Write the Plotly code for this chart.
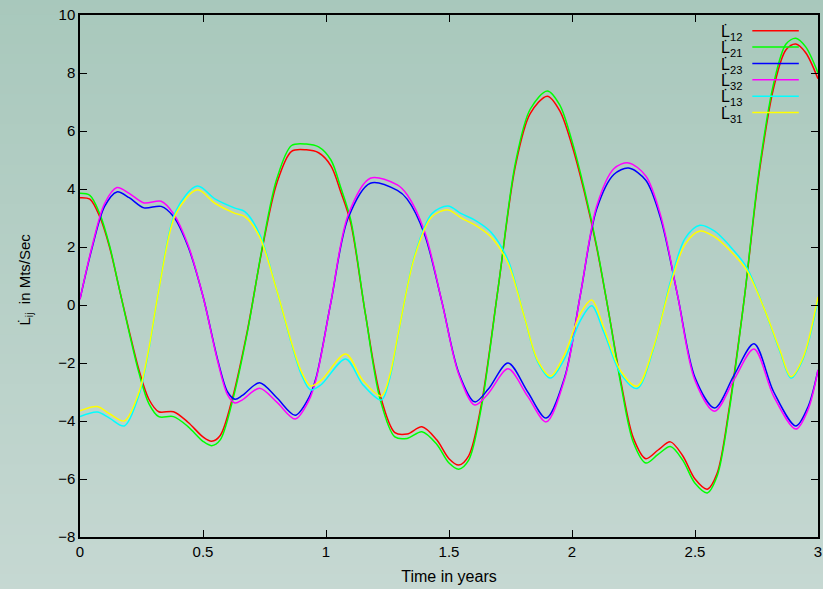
import plotly.graph_objects as go

# Time samples (years) and rates for each pair of bodies
t_a = [0.00, 0.04, 0.08, 0.12, 0.16, 0.20, 0.24, 0.28, 0.32, 0.38, 0.44, 0.50, 0.535, 0.57,
       0.62, 0.68, 0.74, 0.80, 0.86, 0.92, 0.97, 1.02, 1.06, 1.10, 1.16, 1.22, 1.28, 1.33,
       1.39, 1.45, 1.50, 1.54, 1.58, 1.63, 1.70, 1.77, 1.83, 1.90, 1.95, 2.00, 2.05, 2.10,
       2.15, 2.20, 2.25, 2.30, 2.35, 2.40, 2.45, 2.50, 2.55, 2.59, 2.64, 2.70, 2.76, 2.82,
       2.87, 2.91, 2.95, 3.00]
l12 = [3.70, 3.65, 3.05, 2.00, 0.55, -0.90, -2.25, -3.25, -3.68, -3.68, -4.05, -4.55, -4.70, -4.50,
       -3.20, -0.90, 1.90, 4.20, 5.30, 5.35, 5.25, 4.80, 3.90, 2.85, -0.30, -3.10, -4.40, -4.45,
       -4.20, -4.65, -5.30, -5.52, -5.20, -3.50, 0.60, 4.80, 6.60, 7.20, 6.70, 5.50, 3.90, 2.00,
       -0.30, -2.70, -4.60, -5.30, -5.00, -4.72, -5.20, -6.00, -6.35, -5.80, -3.50, 0.20, 4.50, 7.50,
       8.80, 9.00, 8.70, 7.80]
l21 = [3.85, 3.78, 3.15, 2.05, 0.55, -0.95, -2.35, -3.40, -3.85, -3.85, -4.20, -4.70, -4.85, -4.65,
       -3.30, -0.95, 1.95, 4.35, 5.50, 5.55, 5.45, 5.00, 4.05, 2.95, -0.30, -3.25, -4.55, -4.60,
       -4.37, -4.80, -5.45, -5.66, -5.35, -3.60, 0.60, 4.90, 6.75, 7.38, 6.90, 5.65, 4.00, 2.05,
       -0.30, -2.80, -4.75, -5.45, -5.15, -4.88, -5.35, -6.15, -6.48, -5.90, -3.60, 0.20, 4.60, 7.65,
       9.00, 9.20, 8.90, 8.00]

t_b = [0.00, 0.05, 0.10, 0.15, 0.20, 0.26, 0.33, 0.38, 0.44, 0.50, 0.56, 0.60, 0.63, 0.66, 0.73,
       0.80, 0.875, 0.93, 0.96, 1.02, 1.09, 1.18, 1.29, 1.33, 1.40, 1.47, 1.54, 1.605, 1.66,
       1.74, 1.82, 1.895, 1.97, 2.035, 2.10, 2.17, 2.23, 2.30, 2.36, 2.43, 2.50, 2.58, 2.66,
       2.74, 2.82, 2.91, 2.96, 3.00]
l23 = [0.20, 2.00, 3.40, 3.90, 3.70, 3.35, 3.40, 3.05, 2.00, 0.30, -1.90, -3.00, -3.25, -3.12, -2.68,
       -3.20, -3.80, -3.20, -2.50, 0.10, 3.00, 4.20, 3.95, 3.65, 2.45, 0.15, -2.35, -3.34, -2.90,
       -2.00, -3.00, -3.90, -2.50, 0.40, 3.30, 4.50, 4.72, 4.30, 3.00, 0.30, -2.50, -3.55, -2.40,
       -1.34, -3.00, -4.17, -3.50, -2.24]
l32 = [0.20, 2.05, 3.50, 4.05, 3.85, 3.52, 3.58, 3.15, 2.05, 0.30, -1.95, -3.10, -3.38, -3.27, -2.87,
       -3.35, -3.93, -3.30, -2.55, 0.10, 3.10, 4.37, 4.14, 3.80, 2.55, 0.15, -2.40, -3.45, -3.05,
       -2.20, -3.15, -4.03, -2.55, 0.40, 3.40, 4.70, 4.90, 4.45, 3.10, 0.30, -2.60, -3.66, -2.55,
       -1.52, -3.15, -4.28, -3.60, -2.24]

t_c = [0.00, 0.07, 0.12, 0.18, 0.24, 0.28, 0.32, 0.39, 0.477, 0.55, 0.63, 0.67, 0.73, 0.80,
       0.86, 0.90, 0.937, 0.98, 1.08, 1.15, 1.225, 1.26, 1.294, 1.36, 1.43, 1.496, 1.55, 1.605,
       1.67, 1.74, 1.806, 1.86, 1.913, 1.97, 2.035, 2.08, 2.13, 2.20, 2.265, 2.33, 2.40, 2.46,
       2.52, 2.58, 2.64, 2.71, 2.78, 2.845, 2.89, 2.94, 3.00]
l13 = [-3.85, -3.69, -3.90, -4.17, -3.10, -1.55, 0.50, 3.25, 4.10, 3.65, 3.34, 3.22, 2.45, 0.50,
       -1.35, -2.40, -2.93, -2.75, -1.86, -2.75, -3.28, -2.50, -1.00, 1.70, 3.15, 3.41, 3.15, 2.93,
       2.52, 1.55, -0.40, -1.95, -2.52, -1.85, -0.52, -0.03, -0.95, -2.40, -2.88, -1.55, 0.80, 2.30,
       2.75, 2.55, 2.05, 1.30, -0.10, -1.60, -2.52, -1.85, 0.15]
l31 = [-3.65, -3.50, -3.75, -4.00, -3.00, -1.50, 0.50, 3.15, 3.97, 3.50, 3.16, 3.05, 2.35, 0.50,
       -1.30, -2.30, -2.79, -2.60, -1.69, -2.60, -3.14, -2.40, -0.97, 1.66, 3.04, 3.28, 3.00, 2.76,
       2.35, 1.44, -0.40, -1.90, -2.45, -1.70, -0.28, 0.17, -0.80, -2.30, -2.80, -1.50, 0.70, 2.10,
       2.55, 2.35, 1.90, 1.20, -0.10, -1.55, -2.47, -1.80, 0.28]

series = [
    ("12", t_a, l12, "#ff0000"),
    ("21", t_a, l21, "#00ff00"),
    ("23", t_b, l23, "#0000ff"),
    ("32", t_b, l32, "#ff00ff"),
    ("13", t_c, l13, "#00ffff"),
    ("31", t_c, l31, "#ffff00"),
]

FONT = "Liberation Sans, Arial, sans-serif"
LDOT = "L\u0307"

fig = go.Figure()
for sub, t, v, col in series:
    fig.add_trace(go.Scatter(
        x=t, y=v, mode="lines", name=f"{LDOT}<sub>{sub}</sub>",
        line=dict(color=col, width=1.5, shape="spline", smoothing=0.9),
        showlegend=False,
    ))

# Vertical background gradient over the whole canvas
top_rgb = (168, 200, 188)
bot_rgb = (198, 216, 210)
shapes = []
n_strips = 60
y_lo, y_hi = -0.11, 1.04
for i in range(n_strips):
    f = i / (n_strips - 1)
    r = round(bot_rgb[0] + (top_rgb[0] - bot_rgb[0]) * f)
    g = round(bot_rgb[1] + (top_rgb[1] - bot_rgb[1]) * f)
    b = round(bot_rgb[2] + (top_rgb[2] - bot_rgb[2]) * f)
    y0 = y_lo + (y_hi - y_lo) * i / n_strips
    y1 = y_lo + (y_hi - y_lo) * (i + 1) / n_strips + 0.002
    shapes.append(dict(type="rect", xref="paper", yref="paper", x0=-0.12, x1=1.01,
                       y0=y0, y1=y1, fillcolor=f"rgb({r},{g},{b})",
                       line=dict(width=0), layer="below"))

# Key in the upper right: label then line sample
annotations = []
row0 = 0.970
row_step = 0.0314
for i, (sub, t, v, col) in enumerate(series):
    yy = row0 - i * row_step
    shapes.append(dict(type="line", xref="paper", yref="paper", x0=0.911, x1=0.974,
                       y0=yy, y1=yy, line=dict(color=col, width=1.5)))
    annotations.append(dict(xref="paper", yref="paper", x=0.9, y=yy - 0.004, xanchor="right",
                            yanchor="middle", showarrow=False,
                            text=f"{LDOT}<sub>{sub}</sub>",
                            font=dict(family=FONT, size=16, color="black")))

annotations.append(dict(xref="paper", yref="paper", x=-0.074, y=0.494, xanchor="center",
                        yanchor="middle", showarrow=False, textangle=-90,
                        text=f"{LDOT}<sub>ij</sub>  in Mts/Sec",
                        font=dict(family=FONT, size=15, color="black")))

fig.update_layout(
    width=823, height=589,
    margin=dict(l=80, r=1, t=15, b=52),
    paper_bgcolor="rgb(184,208,200)",
    plot_bgcolor="rgba(0,0,0,0)",
    shapes=shapes,
    annotations=annotations,
    font=dict(family=FONT, size=15, color="black"),
)
fig.update_xaxes(
    range=[0, 3], tick0=0, dtick=0.5, showgrid=False, zeroline=False,
    showline=True, linecolor="black", linewidth=1.5, mirror="ticks",
    ticks="inside", ticklen=7, tickcolor="black", tickwidth=1,
    ticklabeloverflow="allow",
    tickfont=dict(family=FONT, size=15),
    title=dict(text="Time in years", font=dict(family=FONT, size=16), standoff=12),
)
fig.update_yaxes(
    range=[-8, 10], tick0=-8, dtick=2, showgrid=False, zeroline=False,
    showline=True, linecolor="black", linewidth=1.5, mirror="ticks",
    ticks="inside", ticklen=7, tickcolor="black", tickwidth=1,
    tickfont=dict(family=FONT, size=15),
)

fig.write_html("out.html")
